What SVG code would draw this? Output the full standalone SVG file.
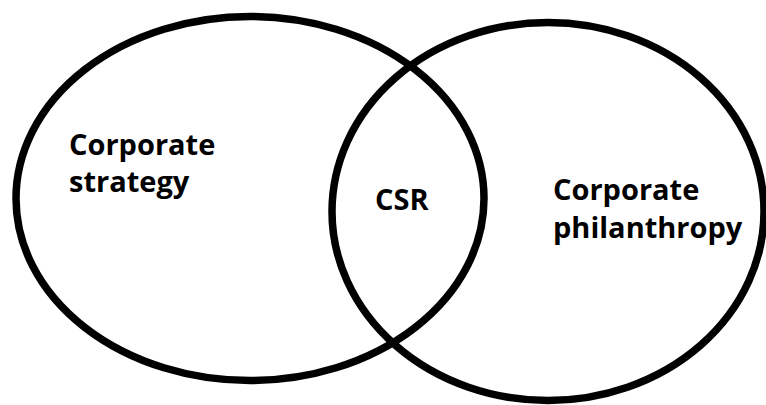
<svg xmlns="http://www.w3.org/2000/svg" width="766" height="405" viewBox="0 0 766 405">
<style>
.ring{fill:none;stroke:#000;stroke-width:7.5}
.lbl{font-family:"Open Sans","Liberation Sans",sans-serif;font-weight:700;font-size:29px;fill:#000}
</style>
<rect width="766" height="405" fill="#fff"/>
<g id="strategy">
<ellipse class="ring" cx="250" cy="198.5" rx="234" ry="182"/>
<text class="lbl" x="69" y="155">Corporate</text>
<text class="lbl" x="69" y="192">strategy</text>
</g>
<g id="philanthropy">
<ellipse class="ring" cx="548" cy="211.5" rx="216" ry="189"/>
<text class="lbl" x="553" y="200">Corporate</text>
<text class="lbl" x="553" y="238">philanthropy</text>
</g>
<g id="csr">
<text class="lbl" x="375" y="210">CSR</text>
</g>
<g id="connectors"/>
</svg>
